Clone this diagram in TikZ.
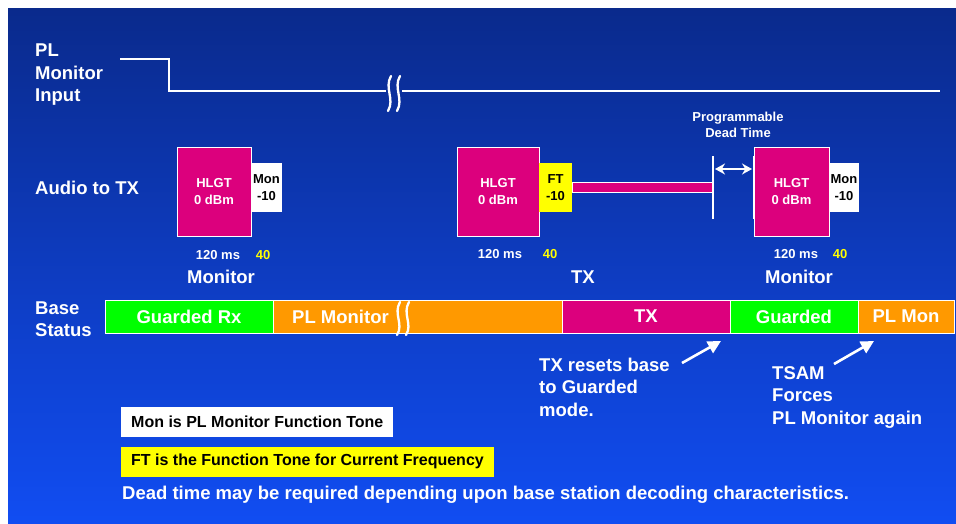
\documentclass[tikz,border=0pt]{standalone}
\usepackage{fontspec}
\setmainfont{Liberation Sans}
\usepackage{xcolor}
\usetikzlibrary{arrows.meta}
\usetikzlibrary{positioning}

\definecolor{hlgt}{RGB}{220,0,125}
\definecolor{grn}{RGB}{0,255,0}
\definecolor{orng}{RGB}{255,153,0}
\definecolor{yel}{RGB}{255,255,0}
\definecolor{bgtop}{RGB}{10,42,140}
\definecolor{bgbot}{RGB}{17,77,242}

\begin{document}
\begin{tikzpicture}[x=1pt,y=-1pt,
    every node/.style={text=white},
    big/.style={font=\fontsize{18.5}{22.5}\selectfont\bfseries, inner sep=0pt},
    small/.style={font=\fontsize{13}{16.5}\selectfont\bfseries, inner sep=0pt},
    hlgtbox/.style={fill=hlgt, draw=white, line width=0.8pt, minimum height=89pt, small, align=center},
    tonebox/.style={line width=0pt, minimum height=49pt, small, align=center, text=black},
    seg/.style={draw=white, line width=0.8pt, outer sep=0pt, minimum height=33pt, anchor=west, big},
    brk/.style={draw=white, line width=2.3pt, line cap=round},
    wave/.style={draw=white, line width=1.3pt},
    bigarrow/.style={draw=white, line width=2.6pt, -{Triangle[length=13pt,width=13pt]}},
    legend/.style={font=\fontsize{16}{19}\selectfont\bfseries, text=black, inner xsep=10pt, minimum height=30pt, anchor=west}]

    \useasboundingbox (0,0) rectangle (956,523);
    \shade[top color=bgtop, bottom color=bgbot] (8,8) rectangle (956,523);

    %===========================
    % Row labels
    %===========================
    \node[big, align=left, anchor=west] (plin) at (35,75) {PL\\Monitor\\Input};
    \node[big, anchor=west] (aud) at (35,188) {Audio to TX};
    \node[big, align=left, anchor=west] (bst) at (35,319) {Base\\Status};

    %===========================
    % PL Monitor input
    %===========================
    \coordinate (w0) at (120,59);
    \coordinate (w1) at (169,59);
    \coordinate (w2) at (169,91);
    \coordinate (w3) at (386,91);
    \coordinate (w4) at (402,91);
    \coordinate (w5) at (940,91);
    \draw[wave] (w0) -- (w1) -- (w2) -- (w3);
    \draw[wave] (w4) -- (w5);
    \draw[brk] (391,76) .. controls (384,88) and (395,99) .. (388,111);
    \draw[brk] (400,76) .. controls (393,88) and (404,99) .. (397,111);

    %===========================
    % Audio to TX
    %===========================
    % Monitor
    \node[hlgtbox, minimum width=74pt] (hlgt1) at (214,191.5) {HLGT\\0 dBm};
    \node[tonebox, fill=white, minimum width=31pt] (mon1) at (266.5,187.5) {Mon\\-10};
    \node[small] (ms1) at (218,255) {120 ms};
    \node[small, text=yel] (n1) at (263,255) {40};
    \node[big] (lab1) at (221,277) {Monitor};

    % TX
    \node[hlgtbox, minimum width=82pt] (hlgt2) at (498,191.5) {HLGT\\0 dBm};
    \node[tonebox, fill=yel, minimum width=33pt] (ft2) at (555.5,187.5) {FT\\-10};
    \node[fill=hlgt, draw=white, line width=0.8pt, minimum width=141pt, minimum height=10pt, inner sep=0pt, anchor=west] (txbar) at (ft2.east) {};
    \node[small] (ms2) at (500,254) {120 ms};
    \node[small, text=yel] (n2) at (550,254) {40};
    \node[big] (lab2) at (583,277) {TX};

    % Monitor again
    \node[hlgtbox, minimum width=75pt] (hlgt3) at (791.5,191.5) {HLGT\\0 dBm};
    \node[tonebox, fill=white, minimum width=30pt] (mon3) at (844,187.5) {Mon\\-10};
    \node[small] (ms3) at (796,254) {120 ms};
    \node[small, text=yel] (n3) at (840,254) {40};
    \node[big] (lab3) at (799,277) {Monitor};

    % dead time
    \coordinate (d1t) at (713,156);
    \coordinate (d1b) at (713,219);
    \coordinate (d2t) at (754,156);
    \coordinate (d2b) at (754,219);
    \draw[white, line width=2.4pt] (d1t) -- (d1b);
    \draw[white, line width=2.4pt] (d2t) -- (d2b);
    \coordinate (dl) at (715,169);
    \coordinate (dr) at (752,169);
    \draw[white, line width=1.5pt, {Stealth[length=10pt,width=11pt]}-{Stealth[length=10pt,width=11pt]}] (dl) -- (dr);
    \node[small, align=center] (dead) at (738,125) {Programmable\\Dead Time};

    %===========================
    % Base status
    %===========================
    \node[seg, fill=grn, minimum width=168pt] (grx) at (105,316.5) {Guarded Rx};
    \node[seg, fill=orng, minimum width=289pt] (plm) at (grx.east) {};
    \node[big, anchor=west] (plmt) at ([xshift=19pt]plm.west) {PL Monitor};
    \node[seg, fill=hlgt, minimum width=168pt] (txs) at (plm.east) {TX};
    \node[seg, fill=grn, minimum width=128pt] (grd) at (txs.east) {Guarded};
    \node[seg, fill=orng, minimum width=96pt] (plm2) at (grd.east) {PL Mon};
    \draw[brk] (400,302) .. controls (393,314) and (404,324) .. (397,335);
    \draw[brk] (409,302) .. controls (402,314) and (413,324) .. (406,335);

    %===========================
    % Notes
    %===========================
    \node[big, align=left, anchor=west] (txr) at (539,387) {TX resets base\\to Guarded\\mode.};
    \node[big, align=left, anchor=west] (tsam) at (772,397) {TSAM\\Forces\\PL Monitor again};
    \coordinate (a1s) at (682,363);
    \coordinate (a1e) at (721,341);
    \coordinate (a2s) at (834,364);
    \coordinate (a2e) at (874,341);
    \draw[bigarrow] (a1s) -- (a1e);
    \draw[bigarrow] (a2s) -- (a2e);

    \node[legend, fill=white] (leg1) at (121,422) {Mon is PL Monitor Function Tone};
    \node[legend, fill=yel] (leg2) at (121,461.5) {FT is the Function Tone for Current Frequency};
    \node[big, anchor=west] (foot) at (122,495) {Dead time may be required depending upon base station decoding characteristics.};
\end{tikzpicture}
\end{document}
